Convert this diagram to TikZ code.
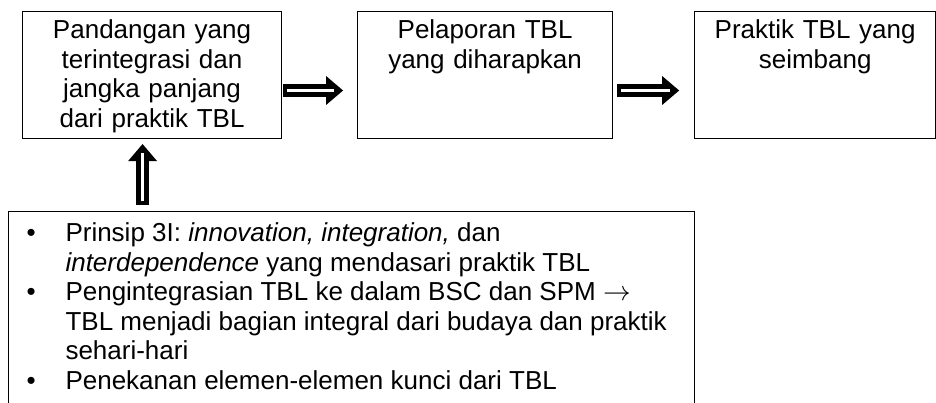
\documentclass[tikz,border=0pt]{standalone}
\usepackage{fontspec}
\setmainfont{Liberation Sans}
\usepackage{tikz}
\usetikzlibrary{calc,positioning}
\usetikzlibrary{arrows.meta}

\newcommand{\bitem}[1]{\par\hangindent=42.75pt\hangafter=1\noindent\makebox[42.75pt][l]{\hspace{13.5pt}\textbullet}#1}

\begin{document}
\begin{tikzpicture}[stage/.style = {draw, line width=0.8pt, inner sep=0pt, align=center, text height=20.25pt, text depth=75pt},
		basis/.style = {draw, line width=0.8pt, inner sep=0pt, text height=22.5pt, text depth=150pt},
		fatarrow/.style = {line width=9.75pt, -{Triangle[width=21.75pt,length=12.75pt,line width=0pt]},
			postaction={draw=white, line width=2pt, shorten <=3pt, shorten >=6.75pt, -}},
		every node/.style = {font=\fontsize{19.5}{22.2}\selectfont}]
		\useasboundingbox (0,0) rectangle (702pt,-302.25pt);
		\clip (0,0) rectangle (702pt,-302.25pt);
		\node[stage, text width=194.25pt, anchor=north west] (view) at (16.5pt,-8.25pt) {Pandangan yang\\ terintegrasi dan\\ jangka panjang\\ dari praktik TBL};
		\node[stage, text width=191.25pt] (report) [right=56.25pt of view] {Pelaporan TBL\\ yang diharapkan};
		\node[stage, text width=180.75pt] (practice) [right=60.75pt of report] {Praktik TBL yang\\ seimbang};
		\node[basis] (basis) [below right=54pt and -10.5pt of view.south west] {\parbox[t]{514.5pt}{\raggedright
			\bitem{Prinsip 3I: \textit{innovation, integration,} dan\newline \textit{interdependence} yang mendasari praktik TBL}
			\bitem{Pengintegrasian TBL ke dalam BSC dan SPM $\rightarrow$\newline TBL menjadi bagian integral dari budaya dan praktik\newline sehari-hari}
			\bitem{Penekanan elemen-elemen kunci dari TBL}}};
		\draw[fatarrow] ($(view.east)+(0.75pt,-11.6pt)$) -- ($(report.west)+(-10.5pt,-11.6pt)$);
		\draw[fatarrow] ($(report.east)+(3pt,-11.6pt)$) -- ($(practice.west)+(-11.25pt,-11.6pt)$);
		\draw[fatarrow] ($(view.south |- basis.north)+(-7.1pt,4.5pt)$) -- ($(view.south)+(-7.1pt,-3.75pt)$);
	\end{tikzpicture}
\end{document}
